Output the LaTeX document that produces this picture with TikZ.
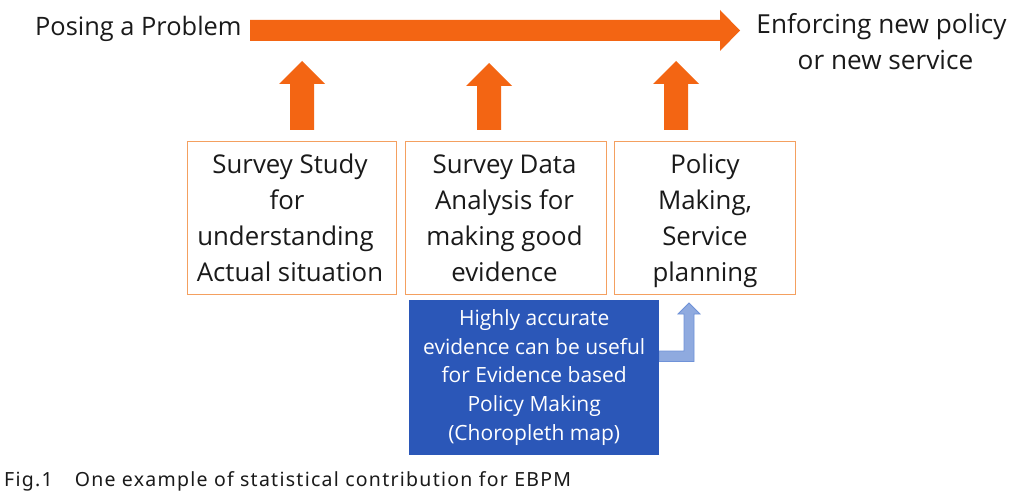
\documentclass[tikz,border=0pt]{standalone}
\usepackage{fontspec}
\setmainfont{Open Sans}
\newfontfamily\capfont[LetterSpace=6.5]{Noto Sans}
\definecolor{orangeA}{HTML}{F36513}
\definecolor{boxline}{HTML}{F4A060}
\definecolor{blueA}{HTML}{2B57B8}
\definecolor{bentfill}{HTML}{8FAADF}
\definecolor{bentline}{HTML}{6F92D8}
\definecolor{inkA}{HTML}{1A1A1A}
\tikzset{
  x=1pt,y=-1pt,
  stepbox/.style={draw=boxline,line width=1.3pt,fill=white,anchor=north west,minimum height=153pt,inner sep=0pt},
  steptext/.style={inner sep=0pt,align=center,text=inkA,font=\fontsize{25.8}{36}\selectfont},
  bluebox/.style={fill=blueA,anchor=north west,inner sep=0pt,align=center,text=white,font=\fontsize{21}{28.9}\selectfont},
  bigarrow/.style={fill=orangeA,draw=none},
  bent/.style={fill=bentfill,draw=bentline,line width=0.8pt},
  heading/.style={text=inkA,inner sep=0pt,align=center},
}
\begin{document}
\begin{tikzpicture}
\useasboundingbox (0,0) rectangle (1024,494);
\fill[white] (0,0) rectangle (1024,494);
% long arrow
\fill[bigarrow] (250,20) -- (720,20) -- (720,10) -- (740,30.5) -- (720,51) -- (720,41) -- (250,41) -- cycle;
% up arrows
\fill[bigarrow] (290,130) -- (290,84) -- (279,84) -- (302,61) -- (325,84) -- (314,84) -- (314,130) -- cycle;
\fill[bigarrow] (477,130) -- (477,86) -- (466,86) -- (489,63) -- (512,86) -- (501,86) -- (501,130) -- cycle;
\fill[bigarrow] (664,130) -- (664,84) -- (653,84) -- (676,61) -- (699,84) -- (688,84) -- (688,130) -- cycle;
% bent arrow
\draw[bent] (659,351) -- (684,351) -- (684,314) -- (678,314) -- (689,303) -- (700,314) -- (694,314) -- (694,361.5) -- (659,361.5) -- cycle;
% boxes
\node[stepbox,minimum width=209pt] (s1) at (187,141) {};
\node[stepbox,minimum width=201pt] (s2) at (405,141) {};
\node[stepbox,minimum width=181pt] (s3) at (614,141) {};
\node[steptext] (t1) at (290,220.5) {\strut Survey Study\\for\rule{6pt}{0pt}\\understanding\rule{9pt}{0pt}\\Actual situation\strut};
\node[steptext] (t2) at (504.5,220.5) {\strut Survey Data\\Analysis for\\making good\\evidence\strut};
\node[steptext] (t3) at (705,220.5) {\strut Policy\\Making,\\Service\\planning\strut};
\node[bluebox,minimum width=250pt,minimum height=154.6pt] (b) at (409,300) {Highly accurate\\evidence can be useful\\for Evidence based\\Policy Making\\(Choropleth map)};
% headings
\node[heading,anchor=west,font=\fontsize{25.4}{36}\selectfont] (pose) at (35,29) {Posing a Problem};
\node[heading,font=\fontsize{26.2}{36}\selectfont] (enf) at (881.5,41.5) {Enforcing new policy\\\hspace*{8pt}or new service};
\node[anchor=west,inner sep=0pt,text=inkA,font=\capfont\fontsize{19.5}{22}\selectfont] (cap) at (4,481) {Fig.1\hspace{22pt}One example of statistical contribution for EBPM};
\end{tikzpicture}
\end{document}
